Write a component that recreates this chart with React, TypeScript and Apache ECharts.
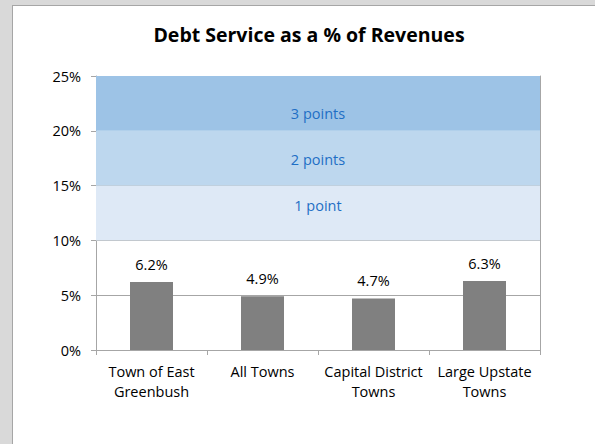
import React, { useEffect, useRef } from "react";
import * as echarts from "echarts";

const categories = ["Town of East\nGreenbush", "All Towns", "Capital District\nTowns", "Large Upstate\nTowns"];
const values = [6.2, 4.9, 4.7, 6.3];
const bandBounds = [[10, 15], [15, 20], [20, 25]];
const bandLabels = ["1 point", "2 points", "3 points"];
const bandColors = ["#dee9f6", "#bdd7ee", "#9dc3e6"];
const bandLabelOffsets = [-8, 1, 10];
const yTicks = { min: 0, max: 25, interval: 5 };
const FONT = "Open Sans";
const FS = 14.5;

export default function App() {
  const ref = useRef<HTMLDivElement>(null);
  useEffect(() => {
    if (!ref.current) return;
    const chart = echarts.init(ref.current, undefined, { renderer: "svg" });
    const axisColor = "#a6a6a6";
    chart.setOption({
      animation: false,
      textStyle: { fontFamily: FONT },
      title: {
        text: "Debt Service as a % of Revenues",
        left: 304,
        textAlign: "center",
        top: 19,
        textStyle: { fontFamily: FONT, fontSize: 19.5, fontWeight: "bold", color: "#000" },
      },
      grid: { left: 96, top: 76, right: 55, bottom: 94, containLabel: false },
      xAxis: {
        type: "category",
        data: categories,
        axisLine: { lineStyle: { color: axisColor } },
        axisTick: { show: true, length: 5, lineStyle: { color: axisColor } },
        axisLabel: { fontFamily: FONT, fontSize: FS, color: "#000", margin: 11, lineHeight: 20, interval: 0 },
        splitLine: { show: false },
      },
      yAxis: [
        {
          type: "value",
          min: yTicks.min,
          max: yTicks.max,
          interval: yTicks.interval,
          axisLine: { show: true, lineStyle: { color: axisColor } },
          axisTick: { show: true, length: 5, lineStyle: { color: axisColor } },
          axisLabel: { formatter: "{value}%", fontFamily: FONT, fontSize: FS, color: "#000", margin: 15 },
          splitLine: { show: true, lineStyle: { color: axisColor, width: 1 } },
        },
        {
          type: "value",
          position: "right",
          min: yTicks.min,
          max: yTicks.max,
          interval: yTicks.interval,
          axisLine: { show: true, lineStyle: { color: axisColor } },
          axisTick: { show: false },
          axisLabel: { show: false },
          splitLine: { show: false },
        },
      ],
      series: [
        {
          type: "bar",
          data: values,
          barWidth: 43,
          itemStyle: { color: "#808080" },
          label: {
            show: true,
            position: "top",
            distance: 10,
            formatter: "{c}%",
            fontFamily: FONT,
            fontSize: FS,
            color: "#000",
          },
          markArea: {
            silent: true,
            data: bandBounds.map((b, i) => [
              {
                yAxis: b[0],
                itemStyle: { color: bandColors[i] },
                label: {
                  show: true,
                  position: "inside",
                  formatter: bandLabels[i],
                  offset: [0, bandLabelOffsets[i]],
                  fontFamily: FONT,
                  fontSize: FS,
                  color: "#1f6fc5",
                },
              },
              { yAxis: b[1] },
            ]),
          },
        },
      ],
    });
    return () => chart.dispose();
  }, []);
  return (
    <div style={{ position: "absolute", left: 0, top: 0, width: 595, height: 444, background: "#d9d9d9" }}>
      <div
        style={{
          position: "absolute",
          left: 12,
          top: 5,
          width: 583,
          height: 439,
          background: "#fff",
          borderLeft: "1px solid #a6a6a6",
          borderTop: "1px solid #a6a6a6",
          boxSizing: "border-box",
        }}
      />
      <div ref={ref} style={{ position: "absolute", left: 0, top: 0, width: 595, height: 444 }} />
    </div>
  );
}
